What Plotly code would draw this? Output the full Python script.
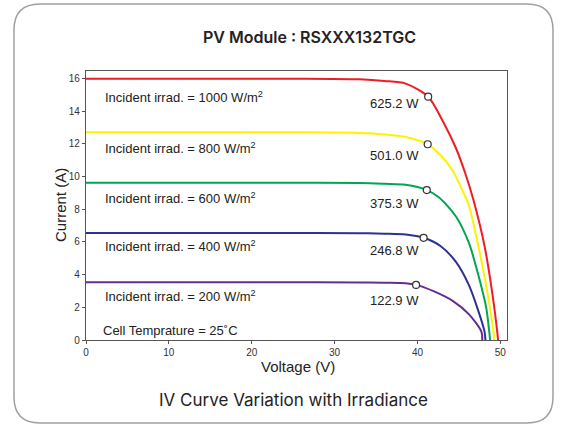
import plotly.graph_objects as go

# ---------------- data ----------------
irradiance = ["1000", "800", "600", "400", "200"]
power_labels = ["625.2 W", "501.0 W", "375.3 W", "246.8 W", "122.9 W"]

v_1000 = [0, 25, 33, 36, 38.57, 41.29, 43.14, 44.66, 45.81, 46.77, 48.09, 49.05, 49.62, 49.72]
i_1000 = [15.98, 15.98, 15.94, 15.84, 15.68, 14.88, 13.30, 11.71, 10.12, 8.53, 5.75, 2.78, 0.51, 0.0]

v_800 = [0, 25, 33, 36, 38.57, 41.23, 42.77, 44.29, 45.43, 46.19, 47.34, 48.48, 49.17, 49.27]
i_800 = [12.70, 12.70, 12.66, 12.57, 12.41, 11.97, 11.31, 10.32, 9.13, 8.24, 5.75, 2.78, 0.51, 0.0]

v_600 = [0, 25, 33, 36, 38.57, 41.12, 42.57, 44.66, 46.19, 47.34, 48.29, 48.66, 48.76]
i_600 = [9.62, 9.62, 9.60, 9.55, 9.49, 9.17, 8.73, 7.54, 5.95, 3.97, 1.98, 0.51, 0.0]

v_400 = [0, 25, 33, 36, 38.57, 40.74, 42.77, 44.66, 46.19, 47.34, 48.09, 48.20]
i_400 = [6.55, 6.55, 6.53, 6.50, 6.45, 6.25, 5.75, 4.76, 3.37, 1.78, 0.51, 0.0]

v_200 = [0, 25, 33, 36, 38.57, 39.83, 42.00, 44.29, 46.19, 47.71, 47.82]
i_200 = [3.53, 3.53, 3.52, 3.50, 3.47, 3.37, 2.97, 2.38, 1.58, 0.51, 0.0]

vmp = [41.29, 41.23, 41.12, 40.74, 39.83]
imp = [14.88, 11.97, 9.17, 6.25, 3.37]

x_ticks = [0, 10, 20, 30, 40, 50]
y_ticks = [0, 2, 4, 6, 8, 10, 12, 14, 16]

# ---------------- styling ----------------
W, H = 568, 425
L, R, T, B = 86, 507, 71, 340
colors = ["#ee1d25", "#fff200", "#00a651", "#2e3192", "#662d91"]
curves = [(v_1000, i_1000), (v_800, i_800), (v_600, i_600), (v_400, i_400), (v_200, i_200)]


def px(x):
    return (x - L) / (R - L)


def py(y):
    return (B - y) / (B - T)


fig = go.Figure()
for (v, i), c, irr in zip(curves, colors, irradiance):
    fig.add_trace(go.Scatter(x=v, y=i, mode="lines", name=irr,
                             line=dict(color=c, width=2, shape="spline", smoothing=0.8),
                             hoverinfo="skip"))

fig.add_trace(go.Scatter(x=vmp, y=imp, mode="markers",
                         marker=dict(size=7, color="white", line=dict(color="#333333", width=1.2)),
                         hoverinfo="skip"))

FONT = "Liberation Sans, Arial"
ann = []
label_y = [97, 148, 198, 246, 296]
for irr, ly in zip(irradiance, label_y):
    ann.append(dict(text=f"Incident irrad. = {irr} W/m<sup>2</sup>", x=px(103), y=py(ly),
                    xref="paper", yref="paper", xanchor="left", yanchor="middle", showarrow=False,
                    font=dict(family=FONT, size=13, color="#222222")))
pow_y = [104, 155, 203, 251, 300]
for pl, ly in zip(power_labels, pow_y):
    ann.append(dict(text=pl, x=px(421), y=py(ly), xref="paper", yref="paper",
                    xanchor="right", yanchor="middle", showarrow=False,
                    font=dict(family=FONT, size=13, color="#222222")))
ann.append(dict(text="Cell Temprature = 25˚C", x=px(101), y=py(330), xref="paper", yref="paper",
                xanchor="left", yanchor="middle", showarrow=False,
                font=dict(family=FONT, size=13, color="#222222")))
ann.append(dict(text="Current (A)", x=px(60), y=py(205), xref="paper", yref="paper",
                textangle=-90, xanchor="center", yanchor="middle", showarrow=False,
                font=dict(family=FONT, size=15, color="#222222")))
ann.append(dict(text="Voltage (V)", x=px(298), y=py(366), xref="paper", yref="paper",
                xanchor="center", yanchor="middle", showarrow=False,
                font=dict(family=FONT, size=15, color="#222222")))
ann.append(dict(text="PV Module : RSXXX132TGC", x=px(309), y=py(37), xref="paper", yref="paper",
                xanchor="center", yanchor="middle", showarrow=False,
                font=dict(family="Inter, Roboto", size=16, color="#222222", weight=600)))
ann.append(dict(text="IV Curve Variation with Irradiance", x=px(293), y=py(400), xref="paper",
                yref="paper", xanchor="center", yanchor="middle", showarrow=False,
                font=dict(family="Inter, Roboto", size=17, color="#222222")))

# rounded card border
x0, x1, y0, y1, r = 14, 553, 4, 423, 26
path = (f"M {px(x0 + r)} {py(y0)} L {px(x1 - r)} {py(y0)} Q {px(x1)} {py(y0)} {px(x1)} {py(y0 + r)} "
        f"L {px(x1)} {py(y1 - r)} Q {px(x1)} {py(y1)} {px(x1 - r)} {py(y1)} "
        f"L {px(x0 + r)} {py(y1)} Q {px(x0)} {py(y1)} {px(x0)} {py(y1 - r)} "
        f"L {px(x0)} {py(y0 + r)} Q {px(x0)} {py(y0)} {px(x0 + r)} {py(y0)} Z")

axis_common = dict(showline=True, mirror=True, linecolor="#555555", linewidth=1.2,
                   ticks="outside", ticklen=3, tickcolor="#555555", tickwidth=1,
                   showgrid=False, zeroline=False,
                   tickfont=dict(family=FONT, size=10, color="#333333"))

fig.update_layout(
    width=W, height=H,
    margin=dict(l=L, r=W - R, t=T, b=H - B, pad=0),
    paper_bgcolor="white", plot_bgcolor="white",
    showlegend=False,
    xaxis=dict(range=[0, 50.8], tickvals=x_ticks, **axis_common),
    yaxis=dict(range=[0, 16.45], tickvals=y_ticks, **axis_common),
    annotations=ann,
    shapes=[dict(type="path", path=path, xref="paper", yref="paper",
                 line=dict(color="#a0a0a0", width=1.5), layer="below")],
)

fig.write_html("out.html", config={"displayModeBar": False},
               post_script="document.body.style.margin='0';document.body.style.overflow='hidden';")
